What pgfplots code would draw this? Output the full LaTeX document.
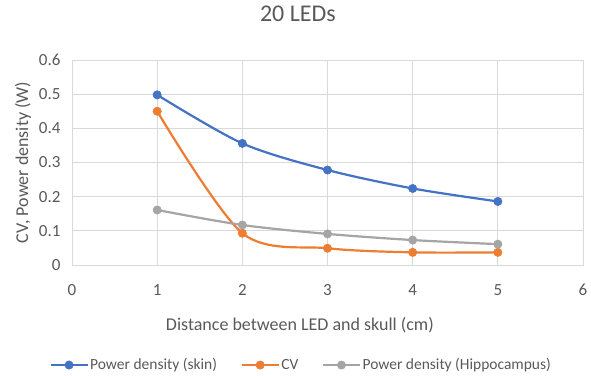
\documentclass[border=0pt]{standalone}
\usepackage{fontspec}
\setmainfont{Carlito}
\usepackage{pgfplots}
\pgfplotsset{compat=1.18}
\definecolor{xblue}{HTML}{4472C4}
\definecolor{xorange}{HTML}{ED7D31}
\definecolor{xgray}{HTML}{A5A5A5}
\definecolor{xtext}{HTML}{595959}
\definecolor{xgrid}{HTML}{D9D9D9}
\begin{document}
\begin{tikzpicture}
\useasboundingbox (0,0) rectangle (591pt,375pt);
\begin{axis}[
  at={(72pt,110pt)}, anchor=south west,
  scale only axis, width=511pt, height=205pt,
  xmin=0, xmax=6, ymin=0, ymax=0.6,
  xtick={0,...,6}, ytick={0,0.1,...,0.6},
  yticklabels={0,0.1,0.2,0.3,0.4,0.5,0.6},
  /pgf/number format/assume math mode=true,
  grid=major,
  major grid style={xgrid, line width=1pt},
  axis line style={xgrid, line width=1pt},
  tick style={draw=none},
  ticklabel style={text=xtext, font=\fontsize{17}{20}\selectfont},
  xticklabel style={anchor=base, yshift=-30pt},
  yticklabel style={xshift=-8pt},
  xlabel={Distance between LED and skull (cm)},
  ylabel={CV, Power density (W)},
  label style={text=xtext, font=\fontsize{18}{21}\selectfont},
  xlabel style={at={(axis description cs:0.446,-0.293)}, anchor=center},
  ylabel style={at={(axis description cs:-0.0959,0.5)}, anchor=center},
  title={20 LEDs},
  title style={at={(axis description cs:0.442,1)}, anchor=center, yshift=40pt, text=xtext, font=\fontsize{24}{28}\selectfont},
  legend columns=3,
  legend style={at={(axis description cs:0.449,-0.488)}, anchor=center, draw=none, fill=none, text=xtext, font=\fontsize{15.5}{18}\selectfont, /tikz/every even column/.append style={column sep=22pt}},
  legend image code/.code={\draw[#1, mark repeat=2, mark phase=2] plot coordinates {(0pt,0pt) (18pt,0pt) (36pt,0pt)};},
  every axis plot/.append style={line width=2.2pt, smooth, tension=0.5, mark=*, mark size=4.2pt},
]
\addplot[xblue, mark options={fill=xblue, draw=xblue, line width=0.5pt}] coordinates {(1,0.498) (2,0.356) (3,0.278) (4,0.224) (5,0.186)};
\addlegendentry{Power density (skin)}
\addplot[xorange, mark options={fill=xorange, draw=xorange, line width=0.5pt}] coordinates {(1,0.45) (2,0.093) (3,0.049) (4,0.037) (5,0.037)};
\addlegendentry{CV}
\addplot[xgray, mark options={fill=xgray, draw=xgray, line width=0.5pt}] coordinates {(1,0.161) (2,0.117) (3,0.091) (4,0.073) (5,0.061)};
\addlegendentry{Power density (Hippocampus)}
\end{axis}
\end{tikzpicture}
\end{document}
